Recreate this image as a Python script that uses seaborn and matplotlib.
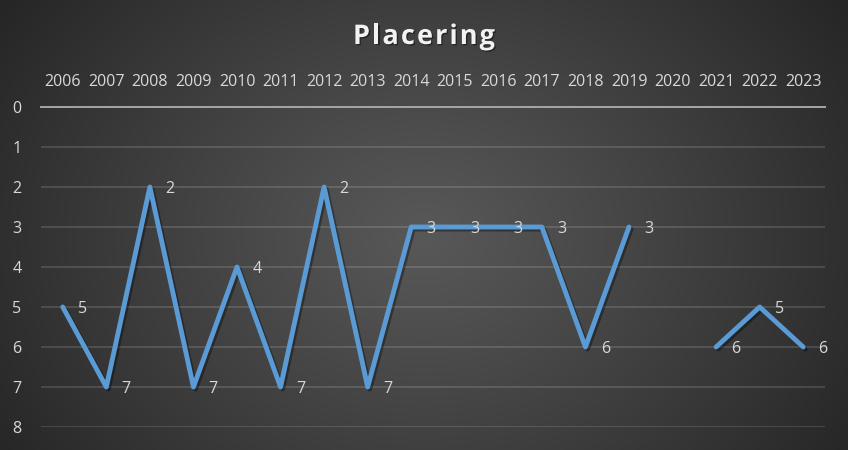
import numpy as np
import pandas as pd
import matplotlib
matplotlib.use("Agg")
import matplotlib.pyplot as plt
import matplotlib.patheffects as pe
import seaborn as sns

years = list(range(2006, 2024))
placering = [5, 7, 2, 7, 4, 7, 2, 7, 3, 3, 3, 3, 6, 3, np.nan, 6, 5, 6]
y_ticks = list(range(0, 9))
title = "Placering"

df = pd.DataFrame({"year": years, "placering": placering})
df["segment"] = df["placering"].isna().cumsum()
df_valid = df.dropna()

sns.set_theme(style="white")
plt.rcParams["font.family"] = ["Open Sans", "DejaVu Sans"]

W, H = 848, 450
fig = plt.figure(figsize=(W / 100, H / 100), dpi=100)

# radial gradient background
bg = fig.add_axes([0, 0, 1, 1], zorder=-10)
yy, xx = np.mgrid[0:H, 0:W]
cx, cy = W * 0.5, H * 0.52
r = np.sqrt(((xx - cx) / (W * 0.62)) ** 2 + ((yy - cy) / (H * 0.95)) ** 2)
r = np.clip(r, 0, 1)
c_in, c_out = 0x58 / 255, 0x24 / 255
val = c_in + (c_out - c_in) * r ** 1.1
img = np.dstack([val, val, val])
bg.imshow(img, aspect="auto", extent=[0, 1, 0, 1], origin="upper")
bg.axis("off")

ax = fig.add_axes([41 / W, 1 - 427 / H, 784 / W, 320 / H])
ax.patch.set_alpha(0)

txt_color = "#D9D9D9"
line_color = "#5B9BD5"

sns.lineplot(data=df_valid, x="year", y="placering", units="segment",
             estimator=None, color=line_color, linewidth=3.5, ax=ax,
             legend=False, sort=False)
for ln in ax.lines:
    ln.set_solid_capstyle("round")
    ln.set_solid_joinstyle("round")
    ln.set_path_effects([pe.SimpleLineShadow(offset=(1.5, -1.5), shadow_color="black", alpha=0.35),
                         pe.Normal()])

for x, y in zip(df_valid["year"], df_valid["placering"]):
    ax.annotate(f"{int(y)}", (x, y), xytext=(11, 0), textcoords="offset points",
                ha="left", va="center_baseline", color=txt_color, fontsize=11.5)

ax.set_xlim(2005.5, 2023.5)
ax.set_ylim(8, 0)
ax.set_xticks(years)
ax.set_xticklabels([str(y) for y in years])
ax.set_yticks(y_ticks)
ax.set_yticklabels([str(t) for t in y_ticks])
ax.xaxis.tick_top()
ax.tick_params(axis="x", length=0, pad=12, colors=txt_color, labelsize=11.5)
ax.tick_params(axis="y", length=0, pad=14, colors=txt_color, labelsize=11.5)
ax.set_xlabel("")
ax.set_ylabel("")

for t in y_ticks[1:]:
    ax.axhline(t, color="white", alpha=0.16, linewidth=1.2, zorder=0)
for s in ["left", "right", "bottom"]:
    ax.spines[s].set_visible(False)
ax.spines["top"].set_color("#A6A6A6")
ax.spines["top"].set_linewidth(1.4)

# title with letter spacing
renderer = fig.canvas.get_renderer()
title_kw = dict(color="#F2F2F2", fontsize=19.5, fontweight="bold", va="center", ha="left",
                path_effects=[pe.withSimplePatchShadow(offset=(1, -1), shadow_rgbFace="black", alpha=0.4)])
widths = []
for ch in title:
    t = fig.text(0, 0, ch, **title_kw)
    widths.append(t.get_window_extent(renderer).width)
    t.remove()
target = 142.0
gap = (target - sum(widths)) / (len(title) - 1)
x0 = 424 - target / 2
ty = 1 - 37 / H
for ch, w in zip(title, widths):
    fig.text(x0 / W, ty, ch, **title_kw)
    x0 += w + gap

fig.savefig("out.png", dpi=100)
